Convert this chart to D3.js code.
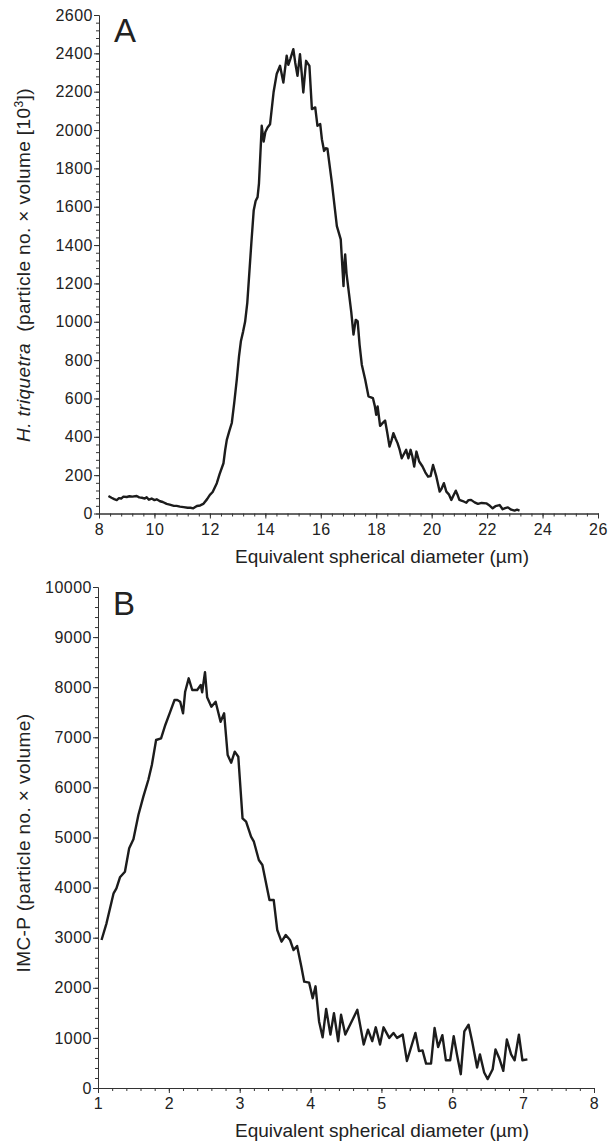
<!DOCTYPE html>
<html lang="en">
    <head>
        <meta charset="utf-8">
        <title>Size distributions A / B</title>
        <script type="text/javascript" src="https://d3js.org/d3.v7.min.js"></script>
        <style type="text/css">
            body { margin: 0; background: #fff; }
            text { font-family: "Liberation Sans", Arial, Helvetica, sans-serif; fill: #222; }
            .axis path, .axis line { stroke: #333; stroke-width: 1; }
            .axis text { font-size: 16px; letter-spacing: 0.5px; }
            .curve { fill: none; stroke: #1c1c1c; stroke-width: 2.4; stroke-linejoin: round; }
        </style>
    </head>
    <body>
        <script type="text/javascript">

            // Panel A: H. triquetra
            var diamA = [8.34, 8.45, 8.55, 8.64, 8.72, 8.80, 8.88, 9.0, 9.1, 9.2, 9.36, 9.45, 9.55, 9.65, 9.72, 9.8, 9.9, 10.0,
                10.08, 10.2, 10.3, 10.44, 10.55, 10.7, 10.8, 10.92, 11.05, 11.2, 11.3, 11.4, 11.53, 11.65, 11.76, 11.9,
                12.0, 12.1, 12.25, 12.35, 12.49, 12.55, 12.61, 12.7, 12.79, 12.88, 12.97, 13.05, 13.12, 13.2, 13.27,
                13.35, 13.42, 13.5, 13.58, 13.65, 13.72, 13.77, 13.87, 13.94, 14.0, 14.08, 14.17, 14.3, 14.41, 14.53,
                14.65, 14.77, 14.83, 14.9, 15.01, 15.08, 15.16, 15.25, 15.31, 15.37, 15.47, 15.59, 15.68, 15.8, 15.88,
                15.98, 16.04, 16.12, 16.18, 16.24, 16.4, 16.58, 16.72, 16.82, 16.85, 16.88, 16.93, 17.0, 17.1, 17.18,
                17.26, 17.33, 17.4, 17.48, 17.6, 17.72, 17.88, 17.95, 18.0, 18.05, 18.14, 18.22, 18.32, 18.4, 18.48,
                18.55, 18.62, 18.7, 18.77, 18.85, 18.92, 19.0, 19.08, 19.16, 19.24, 19.3, 19.37, 19.45, 19.55, 19.67,
                19.77, 19.87, 19.96, 20.05, 20.17, 20.29, 20.36, 20.44, 20.53, 20.62, 20.71, 20.79, 20.87, 20.94, 21.0,
                21.12, 21.25, 21.33, 21.42, 21.55, 21.67, 21.8, 21.97, 22.1, 22.2, 22.3, 22.45, 22.56, 22.65, 22.75,
                22.87, 22.99, 23.08, 23.17];
            var volA = [91, 82, 75, 70, 80, 78, 88, 86, 90, 88, 91, 84, 82, 78, 85, 72, 78, 70,
                74, 64, 60, 50, 46, 40, 40, 36, 33, 30, 30, 27, 39, 42, 50, 75,
                97, 112, 158, 205, 262, 330, 384, 430, 472, 580, 698, 820, 900, 950, 1000,
                1100, 1250, 1420, 1580, 1630, 1650, 1720, 2022, 1940, 1990, 2013, 2030, 2200, 2292, 2335,
                2248, 2388, 2340, 2370, 2422, 2350, 2283, 2396, 2300, 2196, 2361, 2335, 2109, 2118, 2022,
                2031, 1952, 1891, 1905, 1903, 1726, 1499, 1430, 1186, 1300, 1351, 1250, 1168, 1050, 933,
                1010, 1003, 880, 776, 700, 611, 602, 560, 515, 558, 457, 470, 485, 420, 349,
                380, 419, 390, 367, 330, 288, 310, 332, 288, 332, 300, 245, 323, 271, 245,
                215, 192, 195, 253, 192, 114, 130, 158, 114, 100, 71, 95, 119, 95, 71,
                65, 56, 70, 71, 58, 50, 55, 53, 40, 27, 38, 44, 22, 28, 32,
                20, 15, 20, 15];

            // Panel B: IMC-P
            var diamB = [1.05, 1.12, 1.22, 1.26, 1.31, 1.38, 1.44, 1.5, 1.57, 1.64, 1.71, 1.76, 1.82, 1.89, 1.95, 2.02,
                2.08, 2.12, 2.16, 2.2, 2.23, 2.28, 2.33, 2.4, 2.45, 2.47, 2.51, 2.54, 2.6, 2.66, 2.73, 2.78, 2.83,
                2.88, 2.93, 2.98, 3.04, 3.09, 3.16, 3.2, 3.27, 3.32, 3.42, 3.48, 3.53, 3.59, 3.65, 3.71, 3.76, 3.81,
                3.87, 3.91, 3.98, 4.03, 4.07, 4.12, 4.17, 4.22, 4.28, 4.33, 4.39, 4.43, 4.49, 4.66, 4.75, 4.81, 4.87,
                4.92, 4.98, 5.03, 5.11, 5.17, 5.22, 5.30, 5.36, 5.48, 5.53, 5.58, 5.63, 5.70, 5.75, 5.80, 5.86, 5.91,
                5.97, 6.02, 6.07, 6.12, 6.17, 6.23, 6.28, 6.35, 6.39, 6.45, 6.50, 6.57, 6.61, 6.66, 6.72, 6.77, 6.83,
                6.88, 6.94, 6.99, 7.06];
            var volB = [2954, 3287, 3886, 3986, 4205, 4318, 4784, 4964, 5449, 5815, 6148, 6447, 6946, 6980, 7246, 7511,
                7745, 7745, 7711, 7479, 7910, 8177, 7944, 7944, 8044, 7900, 8300, 7800, 7611, 7711, 7311, 7479, 6647,
                6493, 6713, 6613, 5383, 5316, 5016, 4916, 4551, 4451, 3752, 3752, 3154, 2920, 3054, 2954, 2754, 2834,
                2421, 2122, 2102, 1790, 2030, 1329, 1013, 1579, 1066, 1493, 934, 1461, 1066, 1560, 868, 1164, 934,
                1211, 868, 1211, 1000, 1099, 1000, 1066, 539, 1099, 737, 750, 487, 487, 1197, 816, 1053, 553,
                553, 1033, 638, 276, 1132, 1263, 934, 408, 671, 309, 178, 375, 770, 605, 342, 967, 671,
                553, 1066, 553, 572];

            // Ticks
            var xTicksA = [8, 10, 12, 14, 16, 18, 20, 22, 24, 26];
            var yTicksA = [0, 200, 400, 600, 800, 1000, 1200, 1400, 1600, 1800, 2000, 2200, 2400, 2600];
            var xTicksB = [1, 2, 3, 4, 5, 6, 7, 8];
            var yTicksB = [0, 1000, 2000, 3000, 4000, 5000, 6000, 7000, 8000, 9000, 10000];

            var w = 609;
            var h = 1147;

            var svg = d3.select("body")
                        .append("svg")
                        .attr("width", w)
                        .attr("height", h);

            // dibuja un panel completo
            function panel(opt) {
                var xScale = d3.scaleLinear().domain(opt.xDomain).range(opt.xRange);
                var yScale = d3.scaleLinear().domain(opt.yDomain).range(opt.yRange);
                var x0 = opt.xRange[0], y0 = opt.yRange[0];

                // minor ticks
                svg.append("g")
                    .attr("class", "axis")
                    .attr("transform", "translate(0," + y0 + ")")
                    .call(d3.axisBottom(xScale).tickValues(d3.range(opt.xDomain[0], opt.xDomain[1] + 1e-9, opt.xMinor))
                        .tickSize(3).tickSizeOuter(0).tickFormat(""));
                svg.append("g")
                    .attr("class", "axis")
                    .attr("transform", "translate(" + x0 + ",0)")
                    .call(d3.axisLeft(yScale).tickValues(d3.range(opt.yDomain[0], opt.yDomain[1] + 1e-9, opt.yMinor))
                        .tickSize(3).tickSizeOuter(0).tickFormat(""));

                // major ticks
                svg.append("g")
                    .attr("class", "x axis")
                    .attr("transform", "translate(0," + y0 + ")")
                    .call(d3.axisBottom(xScale).tickValues(opt.xTicks).tickSize(5).tickSizeOuter(0)
                        .tickPadding(5).tickFormat(d3.format("d")));
                svg.append("g")
                    .attr("class", "y axis")
                    .attr("transform", "translate(" + x0 + ",0)")
                    .call(d3.axisLeft(yScale).tickValues(opt.yTicks).tickSize(5).tickSizeOuter(0)
                        .tickPadding(1).tickFormat(d3.format("d")));

                // curva
                var pts = opt.xs.map(function(d, i) { return [d, opt.ys[i]]; });
                svg.append("path")
                    .datum(pts)
                    .attr("class", "curve")
                    .attr("d", d3.line()
                        .x(function(d) { return xScale(d[0]); })
                        .y(function(d) { return yScale(d[1]); }));

                // letra del panel
                svg.append("text")
                    .attr("x", x0 + 15)
                    .attr("y", opt.yRange[1] + opt.letterDy)
                    .style("font-size", "33px")
                    .text(opt.letter);

                // titulo eje x
                svg.append("text")
                    .attr("x", 382)
                    .attr("y", y0 + 49)
                    .attr("text-anchor", "middle")
                    .style("font-size", "19px")
                    .text("Equivalent spherical diameter (\u00b5m)");
            }

            panel({
                xDomain: [8, 26], xRange: [99, 598], xTicks: xTicksA, xMinor: 0.4,
                yDomain: [0, 2600], yRange: [513.5, 15], yTicks: yTicksA, yMinor: 40,
                xs: diamA, ys: volA, letter: "A", letterDy: 27
            });

            panel({
                xDomain: [1, 8], xRange: [98, 594], xTicks: xTicksB, xMinor: 0.2,
                yDomain: [0, 10000], yRange: [1088, 587], yTicks: yTicksB, yMinor: 200,
                xs: diamB, ys: volB, letter: "B", letterDy: 28
            });

            // titulos eje y
            var labA = svg.append("text")
                .attr("transform", "translate(30,265) rotate(-90)")
                .attr("text-anchor", "middle")
                .style("font-size", "19px")
                .style("letter-spacing", "0.4px");
            labA.append("tspan").style("font-style", "italic").text("H. triquetra");
            labA.append("tspan").text("\u00a0\u00a0(particle no. \u00d7 volume [10");
            labA.append("tspan").attr("dy", -7).style("font-size", "12px").text("3");
            labA.append("tspan").attr("dy", 7).text("])");

            svg.append("text")
                .attr("transform", "translate(30,843) rotate(-90)")
                .attr("text-anchor", "middle")
                .style("font-size", "19px")
                .style("letter-spacing", "0.4px")
                .text("IMC-P (particle no. \u00d7 volume)");
        </script>
    </body>
</html>
